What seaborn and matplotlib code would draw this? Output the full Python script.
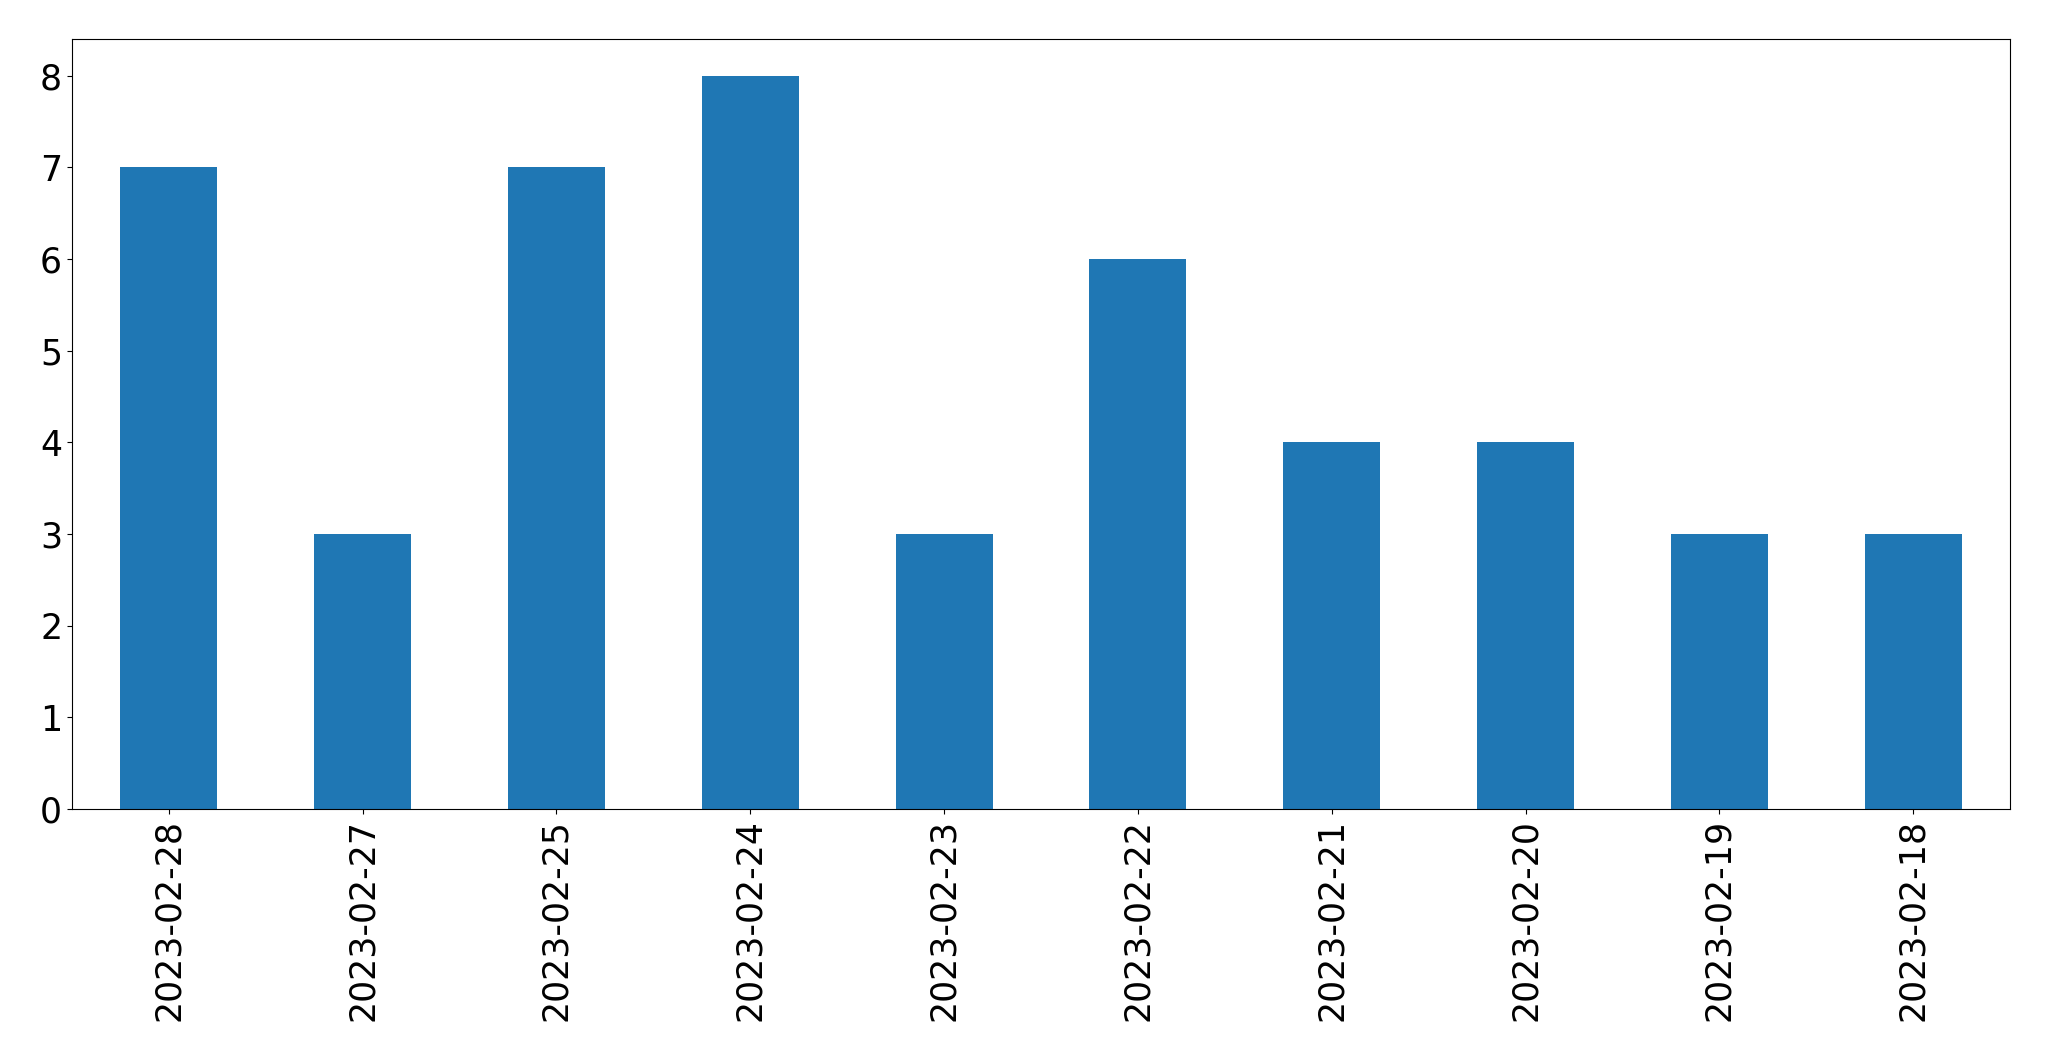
import pandas as pd
import matplotlib
matplotlib.use("Agg")
import matplotlib.pyplot as plt
import seaborn as sns

# data
dates = ['2023-02-28', '2023-02-27', '2023-02-25', '2023-02-24', '2023-02-23',
         '2023-02-22', '2023-02-21', '2023-02-20', '2023-02-19', '2023-02-18']
counts = [7, 3, 7, 8, 3, 6, 4, 4, 3, 3]

df = pd.DataFrame({'date': dates, 'count': counts})

fig, ax = plt.subplots(figsize=(20.49, 10.61), dpi=100)
sns.barplot(data=df, x='date', y='count', order=dates, color='#1f77b4',
            saturation=1, width=0.5, ax=ax)

ax.set_xlabel('')
ax.set_ylabel('')
ax.tick_params(axis='both', labelsize=25)
ax.tick_params(axis='x', labelrotation=90)
ax.set_xlim(-0.5, len(dates) - 0.5)
ax.set_ylim(0, 8.4)

plt.subplots_adjust(left=0.0351, right=0.981, top=0.9632, bottom=0.2375)
plt.savefig('out.png', dpi=100)
